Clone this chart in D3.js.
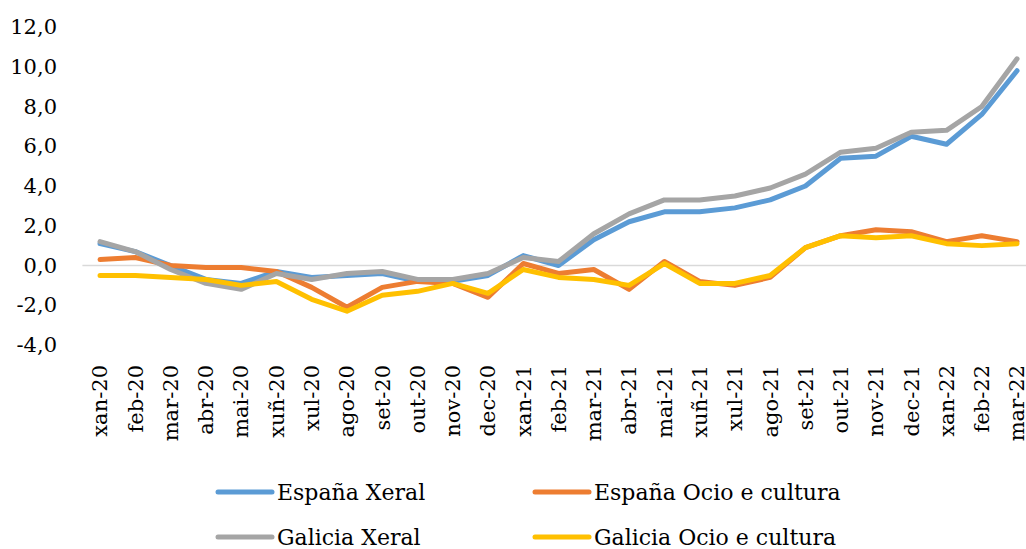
<!DOCTYPE html>
<html>
<head>
<meta charset="utf-8">
<script src="https://cdn.jsdelivr.net/npm/d3@7"></script>
<style>
	body { margin: 0; background: #fff; }
	svg { display: block; font-family: 'DejaVu Serif', serif; }
</style>
</head>
<body>
<svg width="1026" height="549"></svg>
<script>
const months = ['xan-20', 'feb-20', 'mar-20', 'abr-20', 'mai-20', 'xuñ-20', 'xul-20', 'ago-20', 'set-20', 'out-20', 'nov-20', 'dec-20',
	'xan-21', 'feb-21', 'mar-21', 'abr-21', 'mai-21', 'xuñ-21', 'xul-21', 'ago-21', 'set-21', 'out-21', 'nov-21', 'dec-21',
	'xan-22', 'feb-22', 'mar-22'];

const espanaXeral = [1.1, 0.7, 0.0, -0.7, -0.9, -0.3, -0.6, -0.5, -0.4, -0.8, -0.8, -0.5,
	0.5, 0.0, 1.3, 2.2, 2.7, 2.7, 2.9, 3.3, 4.0, 5.4, 5.5, 6.5, 6.1, 7.6, 9.8];
const espanaOcio = [0.3, 0.4, 0.0, -0.1, -0.1, -0.3, -1.1, -2.1, -1.1, -0.8, -0.9, -1.6,
	0.1, -0.4, -0.2, -1.2, 0.2, -0.8, -1.0, -0.6, 0.9, 1.5, 1.8, 1.7, 1.2, 1.5, 1.2];
const galiciaXeral = [1.2, 0.7, -0.2, -0.9, -1.2, -0.4, -0.7, -0.4, -0.3, -0.7, -0.7, -0.4,
	0.4, 0.2, 1.6, 2.6, 3.3, 3.3, 3.5, 3.9, 4.6, 5.7, 5.9, 6.7, 6.8, 8.0, 10.4];
const galiciaOcio = [-0.5, -0.5, -0.6, -0.7, -1.0, -0.8, -1.7, -2.3, -1.5, -1.3, -0.9, -1.4,
	-0.2, -0.6, -0.7, -1.0, 0.1, -0.9, -0.9, -0.5, 0.9, 1.5, 1.4, 1.5, 1.1, 1.0, 1.1];

const yTicks = [-4, -2, 0, 2, 4, 6, 8, 10, 12];

const series = [
	{name: 'España Xeral', values: espanaXeral, color: '#5b9bd5'},
	{name: 'España Ocio e cultura', values: espanaOcio, color: '#ed7d31'},
	{name: 'Galicia Xeral', values: galiciaXeral, color: '#a5a5a5'},
	{name: 'Galicia Ocio e cultura', values: galiciaOcio, color: '#ffc000'}
];

const svg = d3.select('svg');
const fontSize = 21;

const x = d3.scalePoint()
	.domain(months)
	.range([82.4, 82.4 + 35.27 * months.length])
	.padding(0.5);

const y = d3.scaleLinear()
	.domain([-4, 12])
	.range([345, 27]);

// zero line
svg.append('line')
	.attr('x1', 82.4).attr('x2', 82.4 + 35.27 * months.length)
	.attr('y1', y(0)).attr('y2', y(0))
	.attr('stroke', '#d9d9d9')
	.attr('stroke-width', 1.5);

// y labels
let yAxis = d3.axisLeft(y)
	.tickValues(yTicks)
	.tickSize(0)
	.tickPadding(0)
	.tickFormat(d => d3.format('.1f')(d).replace('.', ',').replace('−', '-'));

let gy = svg.append('g')
	.attr('transform', 'translate(57,0)')
	.call(yAxis);
gy.select('.domain').remove();
gy.selectAll('text')
	.attr('font-size', fontSize)
	.attr('font-family', 'DejaVu Serif')
	.attr('fill', '#000');

// x labels, rotated
svg.append('g')
	.selectAll('text')
	.data(months)
	.enter().append('text')
	.attr('transform', d => `translate(${x(d)},365) rotate(-90)`)
	.attr('text-anchor', 'end')
	.attr('dy', '0.35em')
	.attr('font-size', fontSize)
	.attr('fill', '#000')
	.text(d => d);

let line = d3.line()
	.x((d, i) => x(months[i]))
	.y(d => y(d));

svg.append('g')
	.selectAll('path')
	.data(series)
	.enter().append('path')
	.attr('d', d => line(d.values))
	.attr('fill', 'none')
	.attr('stroke', d => d.color)
	.attr('stroke-width', 5)
	.attr('stroke-linejoin', 'round')
	.attr('stroke-linecap', 'round');

// legend
const legendPos = [[218, 492], [535, 492], [218, 537], [535, 537]];

let legend = svg.append('g')
	.selectAll('g')
	.data(series)
	.enter().append('g')
	.attr('transform', (d, i) => `translate(${legendPos[i][0]},${legendPos[i][1]})`);

legend.append('line')
	.attr('x1', 0).attr('x2', 54)
	.attr('stroke', d => d.color)
	.attr('stroke-width', 5)
	.attr('stroke-linecap', 'round');

legend.append('text')
	.attr('x', 59)
	.attr('dy', '0.35em')
	.attr('font-size', fontSize + 1)
	.attr('fill', '#000')
	.text(d => d.name);
</script>
</body>
</html>
